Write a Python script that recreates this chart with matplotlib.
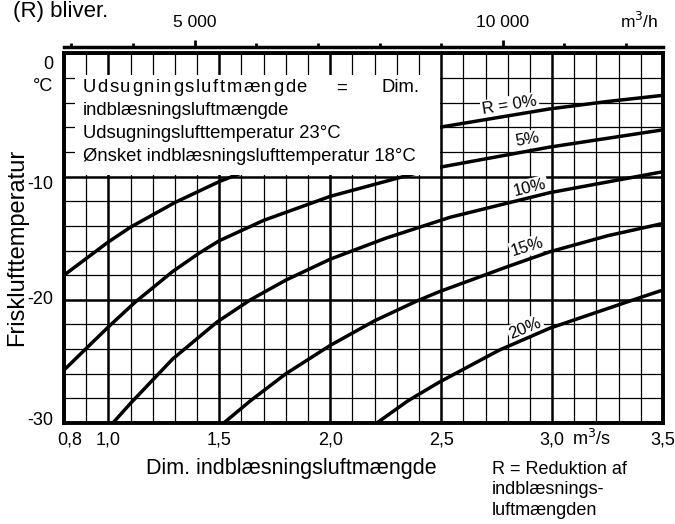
import matplotlib
matplotlib.use("Agg")
import matplotlib.pyplot as plt
import matplotlib.transforms as mtransforms
from matplotlib.patches import Rectangle

# Curve data (x in m3/s, y in degC)
r0_x = [0.8, 1.0, 1.1, 1.3, 1.5, 1.6, 2.0, 2.49, 2.99, 3.25, 3.5]
r0_y = [-18.0, -15.3, -14.1, -12.1, -10.4, -9.7, -7.7, -6.0, -4.5, -3.9, -3.4]

r5_x = [0.8, 1.0, 1.12, 1.29, 1.41, 1.5, 1.7, 2.0, 2.39, 2.49, 2.99, 3.5]
r5_y = [-25.7, -22.2, -20.2, -17.7, -16.2, -15.2, -13.55, -11.6, -9.7, -9.25, -7.6, -6.2]

r10_x = [1.02, 1.1, 1.29, 1.49, 1.64, 1.8, 2.0, 2.25, 2.54, 2.99, 3.5]
r10_y = [-30.0, -28.4, -24.8, -21.8, -20.0, -18.4, -16.7, -15.0, -13.3, -11.3, -9.6]

r15_x = [1.52, 1.64, 1.8, 2.0, 2.2, 2.39, 2.49, 2.8, 2.99, 3.25, 3.5]
r15_y = [-30.0, -28.2, -26.0, -23.7, -21.7, -20.1, -19.35, -17.3, -16.1, -14.8, -13.8]

r20_x = [2.21, 2.35, 2.49, 2.76, 2.99, 3.35, 3.5]
r20_y = [-30.0, -28.2, -26.7, -24.1, -22.3, -20.1, -19.2]

curves = [(r0_x, r0_y), (r5_x, r5_y), (r10_x, r10_y), (r15_x, r15_y), (r20_x, r20_y)]

# curve labels: text, x, y, rotation
curve_labels = ["R = 0%", "5%", "10%", "15%", "20%"]
label_x = [2.81, 2.89, 2.90, 2.89, 2.88]
label_y = [-4.2, -7.0, -10.9, -15.7, -22.3]
label_rot = [9, 10, 14, 17, 22]

x_ticks = [0.8, 1.0, 1.5, 2.0, 2.5, 3.0, 3.5]
x_ticklabels = ["0,8", "1,0", "1,5", "2,0", "2,5", "3,0", "3,5"]
y_ticks = [0, -10, -20, -30]
y_ticklabels = ["0", "-10", "-20", "-30"]
top_ticks = [5000, 10000]
top_ticklabels = ["5 000", "10 000"]
top_minor = [3000, 4000, 6000, 7000, 8000, 9000, 11000, 12000]

box_first = ["Udsugningsluftmængde", "=", "Dim."]
box_lines = ["indblæsningsluftmængde",
             "Udsugningslufttemperatur 23°C",
             "Ønsket indblæsningslufttemperatur 18°C"]

narrow = ["Liberation Sans Narrow", "Liberation Sans", "DejaVu Sans"]
plain = ["Liberation Sans", "DejaVu Sans"]
box_fs = 13.3

fig = plt.figure(figsize=(6.75, 5.24), dpi=100)
ax = fig.add_axes([0.0948, 0.1927, 0.8874, 0.7053])
ax.set_xlim(0.8, 3.5)
ax.set_ylim(-30, 0)

# grid
ax.set_xticks([v / 10 for v in range(8, 36)], minor=True)
ax.set_yticks(list(range(-30, 1, 2)), minor=True)
ax.set_xticks(x_ticks)
ax.set_yticks(y_ticks)
ax.set_xticklabels(x_ticklabels, family=narrow, fontsize=13)
ax.set_yticklabels([])
ax.tick_params(which="both", length=0)
ax.tick_params(axis="x", pad=6)
ax.grid(which="minor", color="black", lw=0.9)
ax.grid(which="major", color="black", lw=1.8)
ax.set_axisbelow(True)
for s in ax.spines.values():
    s.set_linewidth(2.8)

# shift the 0,8 label a little right like the reference
lbl0 = ax.get_xticklabels()[0]
lbl0.set_transform(lbl0.get_transform() + mtransforms.ScaledTranslation(6 / 100, 0, fig.dpi_scale_trans))

# y tick labels placed as text
ytrans = ax.get_yaxis_transform()
y_label_pos = [-0.9, -10.6, -20.0, -29.8]
for yv, t in zip(y_label_pos, y_ticklabels):
    ax.text(-0.018, yv, t, transform=ytrans, ha="right", va="center",
            family=narrow, fontsize=13)
ax.text(-0.018, -2.7, "°C", transform=ytrans, ha="right", va="center",
        family=narrow, fontsize=13)

# curves
for cx, cy in curves:
    ax.plot(cx, cy, color="black", lw=2.5, zorder=2.6, solid_joinstyle="round")

for t, lx, ly, rot in zip(curve_labels, label_x, label_y, label_rot):
    ax.text(lx, ly, t, rotation=rot, ha="center", va="center", family=narrow,
            fontsize=12, zorder=2.4, rotation_mode="anchor",
            bbox=dict(facecolor="white", edgecolor="none", pad=1.2))

# white info box
ax.add_patch(Rectangle((0.85, -9.88), 2.494 - 0.85, 9.88 - 1.75,
                       facecolor="white", edgecolor="none", zorder=3))

# first line is justified: spread the letters of the first word
fig.canvas.draw()
renderer = fig.canvas.get_renderer()
word = box_first[0]
widths = []
for ch in word:
    t = ax.text(0, 0, ch, family=plain, fontsize=box_fs)
    widths.append(t.get_window_extent(renderer).width)
    t.remove()
x0_px, y0_px = ax.transData.transform((0.885, -2.8))
gap = (224 - sum(widths)) / (len(word) - 1)
inv = ax.transData.inverted()
xp = x0_px
for ch, w in zip(word, widths):
    xd, yd = inv.transform((xp, y0_px))
    ax.text(xd, yd, ch, family=plain, fontsize=box_fs, va="center", ha="left", zorder=3.5)
    xp += w + gap
ax.text(2.053, -2.8, box_first[1], family=plain, fontsize=box_fs, va="center", ha="center", zorder=3.5)
ax.text(2.404, -2.8, box_first[2], family=plain, fontsize=box_fs, va="center", ha="right", zorder=3.5)
for i, line in enumerate(box_lines):
    ax.text(0.885, -4.6 - i * 1.9, line, family=plain, fontsize=box_fs,
            va="center", ha="left", zorder=3.5)

# top axis in m3/h
sec = ax.secondary_xaxis(1.018, functions=(lambda v: v * 3600, lambda v: v / 3600))
sec.set_xticks(top_ticks)
sec.set_xticklabels(top_ticklabels, family=narrow, fontsize=12.5)
sec.set_xticks(top_minor, minor=True)
sec.tick_params(which="major", length=5, width=2, pad=7)
sec.tick_params(which="minor", length=3, width=2)
sec.spines["top"].set_linewidth(2.5)
ax.text(0.993, 1.06, "m$^3$/h", transform=ax.transAxes, ha="right", va="bottom",
        family=narrow, fontsize=12.5)

# axis labels and notes
ax.text(3.18, -30, "m$^3$/s", ha="center", va="top", family=narrow, fontsize=13,
        transform=ax.transData + mtransforms.ScaledTranslation(0, -6 / 100, fig.dpi_scale_trans))
fig.text(0.025, 0.528, "Frisklufttemperatur", rotation=90, ha="center", va="center",
         family=narrow, fontsize=17)
fig.text(0.432, 0.105, "Dim. indblæsningsluftmængde", ha="center", va="center",
         family=narrow, fontsize=15.5)
fig.text(0.729, 0.12, "R = Reduktion af\nindblæsnings-\nluftmængden", ha="left", va="top",
         family=narrow, fontsize=13, linespacing=1.25)
fig.text(0.019, 0.999, "(R) bliver.", ha="left", va="top", family=plain, fontsize=16)

fig.savefig("out.png", dpi=100)
